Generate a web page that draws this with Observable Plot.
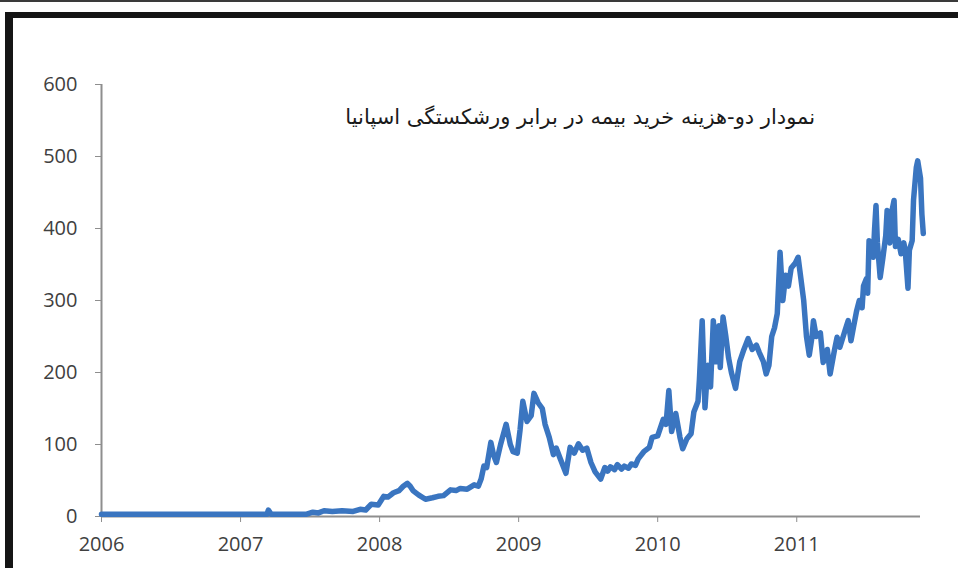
<!DOCTYPE html>
<html>
<head>
<meta charset="utf-8">
<script src="https://cdn.jsdelivr.net/npm/d3@7"></script>
<script src="https://cdn.jsdelivr.net/npm/@observablehq/plot@0.6"></script>
<style>
  html, body { margin: 0; padding: 0; background: #fff; }
  #wrap { position: relative; width: 958px; height: 568px; overflow: hidden; background: #fff; }
  #topline { position: absolute; left: 0; top: 0; width: 958px; height: 2px; background: #3a3a3a; }
  #topbar { position: absolute; left: 5px; top: 12px; width: 953px; height: 6px; background: #151515; }
  #leftbar { position: absolute; left: 5px; top: 12px; width: 8px; height: 556px; background: #151515; }
  #title { position: absolute; right: 143px; top: 104px; direction: rtl; font-family: "DejaVu Sans", sans-serif; font-size: 21px; line-height: 26px; color: #1a1a1a; white-space: nowrap; }
  #chart { position: absolute; left: 0; top: 0; }
</style>
</head>
<body>
<div id="wrap">
  <div id="chart"></div>
  <div id="topline"></div>
  <div id="topbar"></div>
  <div id="leftbar"></div>
  <div id="title"></div>
</div>
<script>
const titleText = "نمودار دو-هزینه خرید بیمه در برابر ورشکستگی اسپانیا";
const xTicks = [2006, 2007, 2008, 2009, 2010, 2011];
const yTicks = [0, 100, 200, 300, 400, 500, 600];

// decimal year of each reading
const years = [
  2006.00, 2006.25, 2006.50, 2006.75, 2007.00, 2007.15, 2007.19, 2007.20, 2007.22, 2007.35,
  2007.47, 2007.52, 2007.56, 2007.60, 2007.66, 2007.73, 2007.81, 2007.86, 2007.90, 2007.94,
  2007.99, 2008.03, 2008.06, 2008.10, 2008.14, 2008.17, 2008.20, 2008.22, 2008.24, 2008.28,
  2008.33, 2008.38, 2008.42, 2008.46, 2008.51, 2008.55, 2008.58, 2008.63, 2008.68, 2008.71,
  2008.73, 2008.75, 2008.77, 2008.80, 2008.82, 2008.84, 2008.87, 2008.91, 2008.94, 2008.96,
  2008.99, 2009.01, 2009.03, 2009.06, 2009.09, 2009.11, 2009.14, 2009.17, 2009.19, 2009.22,
  2009.25, 2009.27, 2009.30, 2009.34, 2009.37, 2009.40, 2009.43, 2009.46, 2009.49, 2009.52,
  2009.55, 2009.59, 2009.62, 2009.64, 2009.66, 2009.69, 2009.71, 2009.74, 2009.76, 2009.79,
  2009.81, 2009.84, 2009.86, 2009.90, 2009.94,
  2009.96, 2010.00, 2010.04, 2010.06, 2010.08, 2010.10, 2010.13, 2010.16, 2010.18, 2010.21,
  2010.24, 2010.26, 2010.29, 2010.30, 2010.32, 2010.34, 2010.36, 2010.38, 2010.40, 2010.42,
  2010.44, 2010.45, 2010.47, 2010.49, 2010.51, 2010.53, 2010.56, 2010.59, 2010.62, 2010.65,
  2010.68, 2010.71, 2010.73, 2010.76, 2010.78, 2010.80, 2010.82, 2010.84, 2010.86, 2010.88,
  2010.90, 2010.92, 2010.94, 2010.96, 2010.99, 2011.01, 2011.03, 2011.05, 2011.07, 2011.09,
  2011.11, 2011.12, 2011.14, 2011.17, 2011.19, 2011.22, 2011.24, 2011.27, 2011.29, 2011.31,
  2011.35, 2011.37, 2011.39, 2011.41, 2011.43, 2011.45, 2011.47, 2011.48, 2011.50, 2011.51,
  2011.52, 2011.55, 2011.56, 2011.57, 2011.58, 2011.60, 2011.62, 2011.64, 2011.65, 2011.67,
  2011.68, 2011.70, 2011.71, 2011.73, 2011.75, 2011.77, 2011.78, 2011.80, 2011.81, 2011.83,
  2011.84, 2011.86, 2011.87, 2011.89, 2011.90, 2011.91
];

// CDS spread (basis points)
const spread = [
  3, 3, 3, 3, 3, 3, 3, 9, 3, 3,
  3, 6, 5, 8, 7, 8, 7, 10, 9, 17,
  16, 28, 27, 33, 36, 42, 46, 42, 36, 30,
  24, 26, 28, 29, 37, 36, 39, 38, 44, 42,
  52, 70, 68, 103, 85, 75, 100, 128, 100, 90,
  88, 120, 160, 132, 140, 171, 158, 150, 128, 110,
  86, 95, 80, 60, 96, 88, 101, 92, 95, 75,
  62, 52, 68, 63, 69, 65, 72, 66, 70, 67,
  73, 71, 80, 90, 96,
  110, 112, 135, 128, 175, 118, 143, 110, 94, 108,
  115, 145, 160, 190, 272, 151, 210, 180, 272, 215,
  265, 207, 277, 250, 220, 200, 178, 215, 232, 247,
  232, 238, 228, 215, 198, 210, 250, 262, 282, 367,
  300, 335, 320, 345, 352, 360, 330, 300, 250, 224,
  250, 272, 250, 255, 214, 232, 198, 230, 249, 235,
  260, 272, 244, 265, 285, 300, 290, 320, 330, 310,
  383, 360, 400, 432, 380, 332, 360, 390, 425, 380,
  420, 439, 375, 385, 365, 380, 370, 317, 370, 383,
  440, 485, 494, 470, 420, 393
];

const data = years.map((t, i) => ({t, v: spread[i]}));

document.getElementById("title").textContent = titleText;

const chart = Plot.plot({
  width: 958,
  height: 568,
  marginLeft: 101,
  marginRight: 38,
  marginTop: 84,
  marginBottom: 52,
  style: {fontFamily: "'Open Sans', sans-serif", fontSize: "20px", background: "transparent", overflow: "visible"},
  x: {domain: [xTicks[0], 2011.89]},
  y: {domain: [yTicks[0], yTicks[yTicks.length - 1]]},
  marks: [
    Plot.ruleX([xTicks[0]], {stroke: "#8e8e8e", strokeWidth: 2}),
    Plot.ruleY([yTicks[0]], {stroke: "#8e8e8e", strokeWidth: 2}),
    Plot.axisY({ticks: yTicks, tickSize: 6, tickPadding: 18, stroke: "#8e8e8e", fill: "#404040", label: null}),
    Plot.axisX({ticks: xTicks, tickFormat: d3.format("d"), tickSize: 6, tickPadding: 14, stroke: "#8e8e8e", fill: "#404040", label: null}),
    Plot.line(data, {x: "t", y: "v", stroke: "#3a75c0", strokeWidth: 5.5, strokeLinejoin: "round", strokeLinecap: "round"})
  ]
});
document.getElementById("chart").appendChild(chart);
</script>
</body>
</html>
